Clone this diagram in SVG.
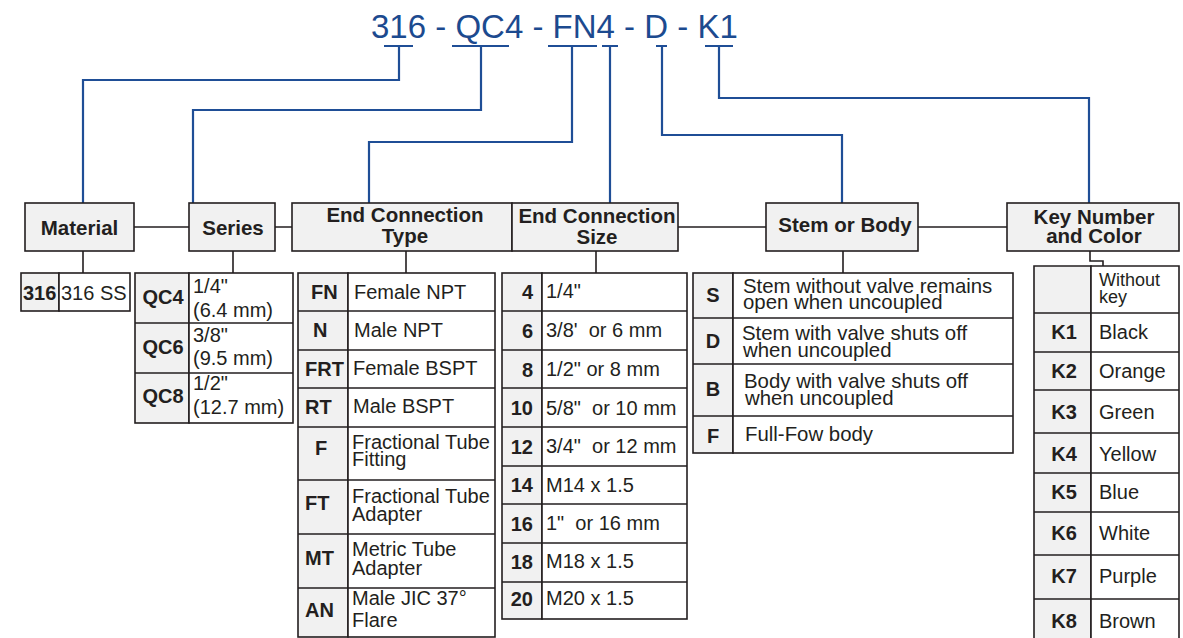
<svg xmlns="http://www.w3.org/2000/svg" width="1183" height="638" viewBox="0 0 1183 638">
<style>
.bg{fill:#ffffff}
.hdr{fill:#f1f1f1;stroke:#231f20;stroke-width:1.6}
.cell{fill:#ffffff;stroke:#231f20;stroke-width:1.6}
.code{fill:#f1f1f1;stroke:#231f20;stroke-width:1.6}
.ln{fill:none;stroke:#231f20;stroke-width:1.6}
.bl{fill:none;stroke:#1f4e96;stroke-width:2.2}
text{font-family:"Liberation Sans",Arial,sans-serif;fill:#231f20}
.t{font-size:33px;fill:#1c4a8f}
.h{font-size:20.5px;font-weight:bold;text-anchor:middle}
.b{font-size:20px;font-weight:bold}
.bc{font-size:20px;font-weight:bold;text-anchor:middle}
.br{font-size:20px;font-weight:bold;text-anchor:end}
.r{font-size:20px;white-space:pre}
.rs{font-size:20.4px;white-space:pre}
.s{font-size:18px}
</style>
<rect class="bg" x="0" y="0" width="1183" height="638"/>
<g id="title">
<text class="t" x="371" y="38">316 - QC4 - FN4 - D - K1</text>
</g>
<g id="connectors">
<path class="bl" d="M384 46H413M399 46V80H83V203"/>
<path class="bl" d="M452 46H509M481 46V110H193V203"/>
<path class="bl" d="M548 46H597M572 46V142H369V203"/>
<path class="bl" d="M602 46H618M610 46V203"/>
<path class="bl" d="M656 46H667M662 46V135H842V203"/>
<path class="bl" d="M705 46H733M719 46V98H1089V203"/>
<path class="ln" d="M134 227H189M275 227H292M678 227H766M918 227H1007"/>
<path class="ln" d="M83 251V273M233 251V273M406 251V273M596 251V273M843 251V273M1090 251V261H1103V266"/>
</g>
<g id="material">
<rect class="hdr" x="25" y="203" width="109" height="48"/>
<text class="h" x="79.5" y="235">Material</text>
</g>
<g id="series">
<rect class="hdr" x="189" y="203" width="86" height="48"/>
<text class="h" x="233" y="235">Series</text>
</g>
<g id="ec-type">
<rect class="hdr" x="292" y="203" width="220" height="48"/>
<text class="h" x="405" y="222">End Connection</text>
<text class="h" x="405" y="243">Type</text>
</g>
<g id="ec-size">
<rect class="hdr" x="512" y="203" width="166" height="48"/>
<text class="h" x="597" y="223">End Connection</text>
<text class="h" x="597" y="244">Size</text>
</g>
<g id="stem">
<rect class="hdr" x="766" y="203" width="152" height="48"/>
<text class="h" x="845" y="232">Stem or Body</text>
</g>
<g id="key">
<rect class="hdr" x="1007" y="203" width="172" height="48"/>
<text class="h" x="1094" y="224">Key Number</text>
<text class="h" x="1094" y="243">and Color</text>
</g>
<g id="material-table">
<rect class="code" x="21" y="273" width="38" height="38"/>
<rect class="cell" x="59" y="273" width="71" height="38"/>
<text class="b" x="23" y="300">316</text>
<text class="r" x="61" y="300">316 SS</text>
</g>
<g id="series-table">
<rect class="code" x="135" y="273" width="54" height="150"/>
<rect class="cell" x="189" y="273" width="104" height="150"/>
<path class="ln" d="M135 323H293M135 373H293"/>
<text class="bc" x="163" y="304">QC4</text>
<text class="bc" x="163" y="354">QC6</text>
<text class="bc" x="163" y="403">QC8</text>
<text class="r" x="193" y="293">1/4"</text>
<text class="r" x="193" y="317">(6.4 mm)</text>
<text class="r" x="193" y="342">3/8"</text>
<text class="r" x="193" y="365">(9.5 mm)</text>
<text class="r" x="193" y="390">1/2"</text>
<text class="r" x="193" y="414">(12.7 mm)</text>
</g>
<g id="ec-type-table">
<rect class="code" x="298" y="273" width="50" height="364"/>
<rect class="cell" x="348" y="273" width="147" height="364"/>
<path class="ln" d="M298 311H495M298 350H495M298 388H495M298 427H495M298 480H495M298 534H495M298 588H495"/>
<text class="b" x="311" y="299">FN</text>
<text class="b" x="313" y="337">N</text>
<text class="b" x="305" y="376">FRT</text>
<text class="b" x="305" y="414">RT</text>
<text class="b" x="315" y="455">F</text>
<text class="b" x="305" y="510">FT</text>
<text class="b" x="305" y="565">MT</text>
<text class="b" x="305" y="617">AN</text>
<text class="r" x="354" y="299">Female NPT</text>
<text class="r" x="354" y="337">Male NPT</text>
<text class="r" x="353" y="375">Female BSPT</text>
<text class="r" x="353" y="413">Male BSPT</text>
<text class="r" x="352" y="449">Fractional Tube</text>
<text class="r" x="352" y="466">Fitting</text>
<text class="r" x="352" y="503">Fractional Tube</text>
<text class="r" x="352" y="521">Adapter</text>
<text class="r" x="352" y="556">Metric Tube</text>
<text class="r" x="352" y="575">Adapter</text>
<text class="r" x="352" y="605">Male JIC 37°</text>
<text class="r" x="352" y="627">Flare</text>
</g>
<g id="ec-size-table">
<rect class="code" x="502" y="273" width="40" height="346"/>
<rect class="cell" x="542" y="273" width="145" height="346"/>
<path class="ln" d="M502 311H687M502 350H687M502 388H687M502 427H687M502 466H687M502 504H687M502 543H687M502 582H687"/>
<text class="br" x="533" y="299">4</text>
<text class="br" x="533" y="338">6</text>
<text class="br" x="533" y="377">8</text>
<text class="br" x="533" y="415">10</text>
<text class="br" x="533" y="454">12</text>
<text class="br" x="533" y="492">14</text>
<text class="br" x="533" y="531">16</text>
<text class="br" x="533" y="569">18</text>
<text class="br" x="533" y="606">20</text>
<text class="r" x="546" y="298">1/4"</text>
<text class="r" x="546" y="337">3/8'  or 6 mm</text>
<text class="r" x="546" y="376">1/2" or 8 mm</text>
<text class="r" x="546" y="415">5/8"  or 10 mm</text>
<text class="r" x="546" y="453">3/4"  or 12 mm</text>
<text class="r" x="546" y="492">M14 x 1.5</text>
<text class="r" x="546" y="530">1"  or 16 mm</text>
<text class="r" x="546" y="568">M18 x 1.5</text>
<text class="r" x="546" y="605">M20 x 1.5</text>
</g>
<g id="stem-table">
<rect class="code" x="693" y="273" width="40" height="180"/>
<rect class="cell" x="733" y="273" width="280" height="180"/>
<path class="ln" d="M693 318H1013M693 364H1013M693 416H1013"/>
<text class="bc" x="713" y="302">S</text>
<text class="bc" x="713" y="348">D</text>
<text class="bc" x="713" y="396">B</text>
<text class="bc" x="713" y="443">F</text>
<text class="rs" x="743" y="293">Stem without valve remains</text>
<text class="rs" x="743" y="309">open when uncoupled</text>
<text class="rs" x="742" y="340">Stem with valve shuts off</text>
<text class="rs" x="743" y="357">when uncoupled</text>
<text class="rs" x="744" y="388">Body with valve shuts off</text>
<text class="rs" x="745" y="405">when uncoupled</text>
<text class="rs" x="745" y="441">Full-Fow body</text>
</g>
<g id="key-table">
<path class="code" d="M1034 640V266H1091V640"/>
<path class="cell" d="M1091 640V266H1179V640"/>
<path class="ln" d="M1034 313H1179M1034 352H1179M1034 390H1179M1034 433H1179M1034 473H1179M1034 512H1179M1034 555H1179M1034 599H1179"/>
<text class="s" x="1099" y="286">Without</text>
<text class="s" x="1099" y="303">key</text>
<text class="bc" x="1064" y="339">K1</text>
<text class="bc" x="1064" y="378">K2</text>
<text class="bc" x="1064" y="419">K3</text>
<text class="bc" x="1064" y="461">K4</text>
<text class="bc" x="1064" y="499">K5</text>
<text class="bc" x="1064" y="540">K6</text>
<text class="bc" x="1064" y="583">K7</text>
<text class="bc" x="1064" y="628">K8</text>
<text class="r" x="1099" y="339">Black</text>
<text class="r" x="1099" y="378">Orange</text>
<text class="r" x="1099" y="419">Green</text>
<text class="r" x="1099" y="461">Yellow</text>
<text class="r" x="1099" y="499">Blue</text>
<text class="r" x="1099" y="540">White</text>
<text class="r" x="1099" y="583">Purple</text>
<text class="r" x="1099" y="628">Brown</text>
</g>
</svg>
